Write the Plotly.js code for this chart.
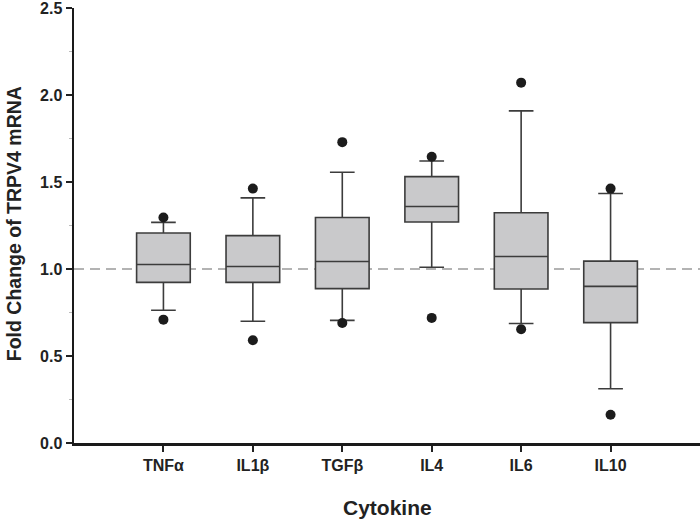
<!DOCTYPE html>
<html>
<head>
<meta charset="utf-8">
<script src="https://cdn.plot.ly/plotly-3.0.1.min.js"></script>
<style>html,body{margin:0;padding:0;background:#fff;}#chart{width:700px;height:519px;}</style>
</head>
<body>
<div id="chart"></div>
<script>
const categories = ["TNFα", "IL1β", "TGFβ", "IL4", "IL6", "IL10"];
const positions = [1, 2, 3, 4, 5, 6];
const lowerWhisker = [0.763, 0.700, 0.705, 1.010, 0.687, 0.312];
const q1Values = [0.923, 0.923, 0.887, 1.270, 0.885, 0.692];
const medianValues = [1.026, 1.014, 1.043, 1.359, 1.072, 0.900];
const q3Values = [1.207, 1.192, 1.296, 1.531, 1.323, 1.045];
const upperWhisker = [1.268, 1.409, 1.556, 1.621, 1.909, 1.434];
const outlierLow = [0.709, 0.591, 0.690, 0.719, 0.654, 0.162];
const outlierHigh = [1.296, 1.462, 1.729, 1.645, 2.071, 1.462];
const referenceLevel = 1.0;
const yTicks = [0, 0.5, 1.0, 1.5, 2.0, 2.5];

const font = "Liberation Sans, Arial, Helvetica, sans-serif";

const boxTrace = {
  type: "box",
  x: positions,
  q1: q1Values,
  median: medianValues,
  q3: q3Values,
  lowerfence: lowerWhisker,
  upperfence: upperWhisker,
  width: 0.6,
  whiskerwidth: 0.46,
  fillcolor: "#c9c9cb",
  line: {color: "#3c3c3c", width: 1.6},
  boxpoints: false,
  hoverinfo: "skip",
  showlegend: false
};

const outX = positions.concat(positions);
const outY = outlierLow.concat(outlierHigh);
const outTrace = {
  type: "scatter",
  mode: "markers",
  x: outX,
  y: outY,
  marker: {color: "#1c1c1c", size: 10},
  showlegend: false,
  hoverinfo: "skip",
  cliponaxis: false
};

const layout = {
  width: 700,
  height: 519,
  margin: {l: 74, r: 0, t: 8, b: 76},
  paper_bgcolor: "#ffffff",
  plot_bgcolor: "#ffffff",
  showlegend: false,
  font: {family: font, color: "#222"},
  xaxis: {
    range: [0, 7],
    tickvals: positions,
    ticktext: categories,
    ticks: "outside",
    ticklen: 6,
    tickwidth: 2,
    tickcolor: "#222",
    showline: true,
    linecolor: "#1a1a1a",
    linewidth: 2.5,
    showgrid: false,
    zeroline: false,
    tickfont: {family: font, size: 16, weight: "bold", color: "#222"},
    fixedrange: true
  },
  yaxis: {
    range: [0, 2.5],
    tickvals: yTicks,
    tickformat: ".1f",
    ticks: "outside",
    ticklen: 6,
    tickwidth: 2,
    tickcolor: "#222",
    showline: true,
    linecolor: "#1a1a1a",
    linewidth: 2.5,
    showgrid: false,
    zeroline: false,
    ticklabeloverflow: "allow",
    tickfont: {family: font, size: 16, weight: "bold", color: "#222"},
    minor: {dtick: 0.25, ticks: "outside", ticklen: 3, tickcolor: "#bbb", tickwidth: 1, showgrid: false},
    fixedrange: true
  },
  shapes: [{
    type: "line",
    xref: "x", yref: "y",
    x0: 0, x1: 7, y0: referenceLevel, y1: referenceLevel,
    line: {color: "#9a9a9a", width: 1.6, dash: "10px,6px"},
    layer: "below"
  }],
  annotations: [
    {
      text: "Cytokine",
      xref: "paper", yref: "paper",
      x: 0.5, y: -0.148,
      xanchor: "center", yanchor: "middle",
      showarrow: false,
      font: {family: font, size: 21, weight: "bold", color: "#222"}
    },
    {
      text: "Fold Change of TRPV4 mRNA",
      xref: "paper", yref: "paper",
      x: -0.096, y: 0.505,
      xanchor: "center", yanchor: "middle",
      textangle: -90,
      showarrow: false,
      font: {family: font, size: 19.5, weight: "bold", color: "#222"}
    }
  ]
};

Plotly.newPlot("chart", [boxTrace, outTrace], layout, {displayModeBar: false, staticPlot: true});
</script>
</body>
</html>
